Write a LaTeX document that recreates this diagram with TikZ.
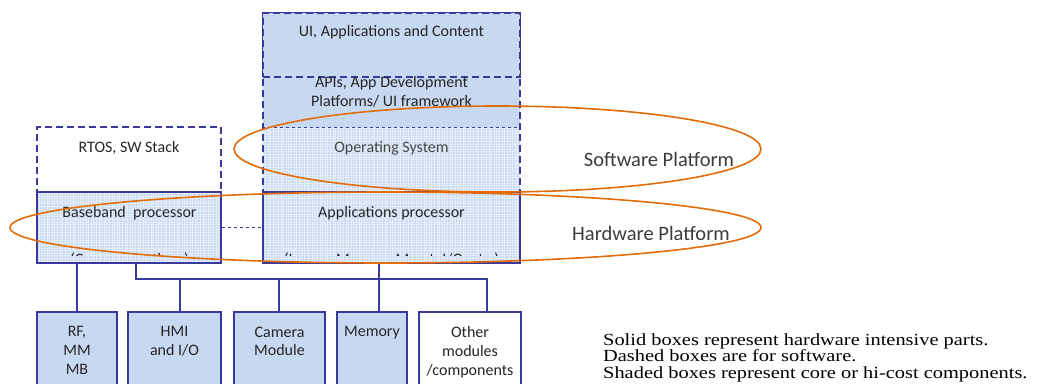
\documentclass[tikz,border=0pt]{standalone}
\usepackage{fontspec}
\setmainfont{Carlito}
\newfontfamily\legendfont{Liberation Serif}
\usetikzlibrary{patterns.meta}
\definecolor{bfill}{HTML}{C6D9F1}
\definecolor{bline}{HTML}{3A3A9C}
\definecolor{orng}{HTML}{E36C0A}
\definecolor{txt}{HTML}{262626}
\definecolor{dotc}{HTML}{E6EEF9}
\tikzset{
  hwbox/.style={draw=bline, line width=1.6pt, fill=bfill, inner sep=0pt},
  corebox/.style={draw=bline, line width=1.6pt, preaction={fill=bfill}, pattern={Hatch[angle=0,distance=2.6pt,line width=0.55pt]}, pattern color=dotc, inner sep=0pt},
  plainbox/.style={draw=bline, line width=1.6pt, fill=white, inner sep=0pt},
  swbox/.style={draw=bline, line width=1.6pt, dash pattern=on 7pt off 4pt, inner sep=0pt},
  finedash/.style={draw=bline, line width=1pt, dash pattern=on 3pt off 3pt},
  wire/.style={draw=bline, line width=1.8pt},
  plat/.style={draw=orng, line width=1.6pt},
  lbl/.style={font=\fontsize{16}{18.8}\selectfont, text=txt, align=center, inner sep=0pt},
  plbl/.style={font=\fontsize{20.5}{24}\selectfont, text=txt!90, inner sep=0pt},
  leg/.style={font=\legendfont\fontsize{17}{17}\selectfont, text=black, inner sep=0pt, anchor=base west}
}
\begin{document}
\begin{tikzpicture}[x=1pt,y=-1pt]
\useasboundingbox (0,0) rectangle (1039,383);
% software stack fills
\fill[bfill] (263,77) rectangle (520,127);
\fill[preaction={fill=bfill}, pattern={Hatch[angle=0,distance=2.6pt,line width=0.55pt]}, pattern color=dotc] (263,127) rectangle (520,192);
\node[swbox, minimum width=257pt, minimum height=179pt] (stack) at (391.5,102.5) {};
\node[swbox, fill=bfill, minimum width=257pt, minimum height=64pt] (ui) at (391.5,45) {};
\draw[finedash] (stack.west |- 0,127) coordinate (osl) -- (stack.east |- osl) coordinate (osr);
\node[swbox, minimum width=184pt, minimum height=65pt] (rtos) at (129,159.5) {};
% processors
\node[corebox, minimum width=184pt, minimum height=71pt] (bb) at (129,227.5) {};
\node[corebox, minimum width=257pt, minimum height=71pt] (ap) at (391.5,227.5) {};
% bottom modules
\node[hwbox, minimum width=80pt, minimum height=90pt] (rf) at (77,357) {};
\node[hwbox, minimum width=93pt, minimum height=90pt] (hmi) at (174.5,357) {};
\node[hwbox, minimum width=91pt, minimum height=90pt] (cam) at (279.5,357) {};
\node[hwbox, minimum width=70pt, minimum height=90pt] (mem) at (372,357) {};
\node[plainbox, minimum width=102pt, minimum height=90pt] (oth) at (470,357) {};
% connectors
\draw[finedash] (bb.east) -- (ap.west);
\coordinate (b0) at (136,263);
\coordinate (b1) at (136,279);
\coordinate (b2) at (487,279);
\coordinate (hj) at (180,279);
\coordinate (cj) at (279,279);
\coordinate (mj) at (379,263);
\draw[wire] (rf.north |- bb.south) -- (rf.north);
\draw[wire] (b0) -- (b1) -- (b2) -- (b2 |- oth.north);
\draw[wire] (hj) -- (hj |- hmi.north);
\draw[wire] (cj) -- (cj |- cam.north);
\draw[wire] (mj) -- (mj |- mem.north);
% texts
\node[lbl] (tui) at (391.5,32) {UI, Applications and Content};
\node[lbl] (tapi) at (391.5,91.5) {APIs, App Development\\Platforms/ UI framework};
\node[lbl, text=txt!85] (tos) at (391.5,148) {Operating System};
\node[lbl] (trtos) at (129,148) {RTOS, SW Stack};
\node[lbl] (tbb) at (129.5,213) {Baseband\ \ processor};
\node[lbl] (tap) at (391.5,213) {Applications processor};
\begin{scope}
\clip (37,240) rectangle (221,255.5);
\node[lbl, anchor=base] (tbb2) at (129.5,264) {(Communications)};
\end{scope}
\begin{scope}
\clip (263,240) rectangle (520,255);
\node[lbl, anchor=base] (tap2) at (391.5,264) {(Image, Memory Mgmt, I/O, etc.)};
\end{scope}
\node[lbl, anchor=north] (trf) at (77,326.5) {RF,\\MM\\MB};
\node[lbl, anchor=north] (thmi) at (174.5,326.5) {HMI\\and I/O};
\node[lbl, anchor=north] (tcam) at (279.5,326.5) {Camera\\Module};
\node[lbl, anchor=north] (tmem) at (372,326.5) {Memory};
\node[lbl, anchor=north] (toth) at (470,326.5) {Other\\modules\\/components};
% platforms
\draw[plat] (497.5,149) ellipse [x radius=263.5, y radius=43];
\draw[plat] (385.5,227.5) ellipse [x radius=375.5, y radius=35.5];
\node[plbl] (tsw) at (659,159) {Software Platform};
\begin{scope}
\clip (560,215) rectangle (760,239.5);
\node[plbl] (thw) at (651,233) {Hardware Platform};
\end{scope}
% legend
\node[leg] (l1) at (603,345) {\scalebox{1.2}[1]{Solid boxes represent hardware intensive parts.}};
\node[leg] (l2) at (603,361.5) {\scalebox{1.2}[1]{Dashed boxes are for software.}};
\node[leg] (l3) at (603,378) {\scalebox{1.2}[1]{Shaded boxes represent core or hi-cost components.}};
\end{tikzpicture}
\end{document}
